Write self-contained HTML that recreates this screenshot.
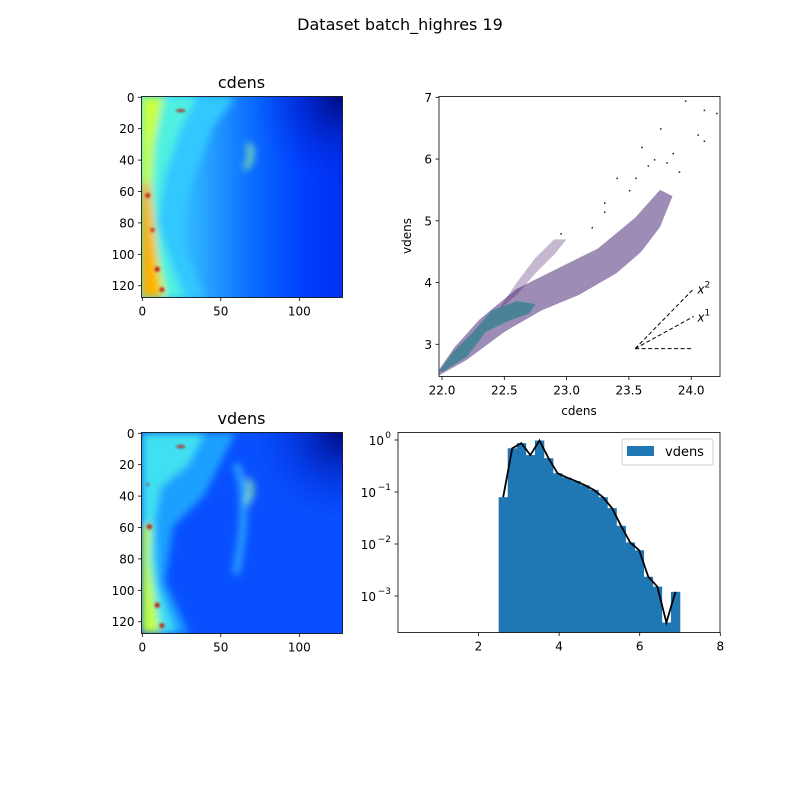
<!DOCTYPE html>
<html><head><meta charset="utf-8"><style>
body{margin:0;background:#fff}
svg{display:block;font-family:"DejaVu Sans","Liberation Sans",sans-serif}
</style></head><body>
<svg id="fig" width="800" height="800" viewBox="0 0 800 800">
<defs>
<filter id="bl" x="-10%" y="-10%" width="120%" height="120%"><feGaussianBlur stdDeviation="2.5"/></filter>
<filter id="bl2"><feGaussianBlur stdDeviation="0.8"/></filter>
<linearGradient id="gbase" x1="0" y1="0" x2="1" y2="0">
<stop offset="0" stop-color="#40e8ff"/><stop offset="0.3" stop-color="#2aa8ff"/><stop offset="0.55" stop-color="#0a6cff"/><stop offset="0.8" stop-color="#0040ff"/><stop offset="1" stop-color="#0030f0"/></linearGradient>
<radialGradient id="gdark" cx="1" cy="0" r="0.45"><stop offset="0" stop-color="#000a80"/><stop offset="1" stop-color="#0030f0" stop-opacity="0"/></radialGradient>
<clipPath id="c1"><rect x="0" y="0" width="128" height="128"/></clipPath>
</defs>
<rect width="800" height="800" fill="#fff"/>
<text x="400" y="30" text-anchor="middle" font-size="16">Dataset batch_highres 19</text>

<g>
<text x="241.5" y="88" text-anchor="middle" font-size="16">cdens</text>
<g transform="translate(141.5,96.5) scale(1.5703)" clip-path="url(#c1)">
<rect width="128" height="128" fill="url(#gbase)"/>
<rect width="128" height="128" fill="url(#gdark)"/>
<g filter="url(#bl)">
<polygon points="0,0 60,0 45,20 30,60 25,90 40,128 0,128" fill="#30c8ff"/>
<polygon points="0,0 35,0 25,20 15,50 10,80 20,110 28,128 0,128" fill="#50f0e0"/>
<polygon points="0,0 14,0 8,30 6,60 10,100 16,128 0,128" fill="#c8ff40"/>
<polygon points="0,55 5,55 7,75 10,110 13,128 0,128" fill="#ffb000"/>
<path d="M68,30 Q72,38 66,46" stroke="#a0ffa0" stroke-width="3" fill="none"/>
</g>
<g filter="url(#bl2)" fill="#c01000">
<circle cx="10" cy="110" r="1.6"/><circle cx="13" cy="123" r="1.5"/><circle cx="4" cy="63" r="1.5"/><circle cx="7" cy="85" r="1.2"/><ellipse cx="25" cy="9" rx="3" ry="0.8"/>
</g>
</g>
<rect x="141.5" y="96.5" width="201" height="201" fill="none" stroke="#000" stroke-width="0.8"/>
</g>

<g>
<text x="241.5" y="424" text-anchor="middle" font-size="16">vdens</text>
<g transform="translate(141.5,432.5) scale(1.5703)" clip-path="url(#c1)">
<rect width="128" height="128" fill="#0850ff"/>
<rect width="128" height="128" fill="url(#gdark)"/>
<g filter="url(#bl)">
<polygon points="0,0 60,0 50,20 40,40 20,60 15,95 30,128 0,128" fill="#1aa0ff"/>
<polygon points="0,0 40,0 30,20 12,35 8,60 10,95 22,128 0,128" fill="#40e0f0"/>
<polygon points="0,60 6,58 5,80 9,110 12,128 0,128" fill="#c0ff40"/>
<path d="M68,30 Q72,38 66,46" stroke="#a0ffa0" stroke-width="3" fill="none"/>
<path d="M60,90 Q70,40 60,20" stroke="#30b0ff" stroke-width="4" fill="none"/>
</g>
<g filter="url(#bl2)" fill="#c01000">
<circle cx="10" cy="110" r="1.6"/><circle cx="13" cy="123" r="1.5"/><circle cx="5" cy="60" r="1.6"/><circle cx="4" cy="33" r="0.8"/><ellipse cx="25" cy="9" rx="3" ry="0.8"/>
</g>
</g>
<rect x="141.5" y="432.5" width="201" height="201" fill="none" stroke="#000" stroke-width="0.8"/>
</g>

<g id="imgAxes" font-size="12"></g>
<g id="scatter"></g>
<g id="hist"></g>
</svg>
<script>
const NS="http://www.w3.org/2000/svg";
function mk(tag,attrs,parent,text){const e=document.createElementNS(NS,tag);for(const k in attrs)e.setAttribute(k,attrs[k]);if(text!==undefined)e.textContent=text;parent.appendChild(e);return e;}

const imgXTicks=[0,50,100];
const imgYTicks=[0,20,40,60,80,100,120];
const imgOrigins=[[141.5,96.5],[141.5,432.5]];
const ia=document.getElementById('imgAxes');
imgOrigins.forEach(o=>{
  const s=201/128;
  imgXTicks.forEach(v=>{const x=o[0]+(v+0.5)*s;
    mk('line',{x1:x,x2:x,y1:o[1]+201,y2:o[1]+204.5,stroke:'#000','stroke-width':0.8},ia);
    const t=mk('text',{x:x,y:o[1]+219,'text-anchor':'middle'},ia,String(v));
    
    });
  imgYTicks.forEach(v=>{const y=o[1]+(v+0.5)*s;
    mk('line',{x1:o[0]-3.5,x2:o[0],y1:y,y2:y,stroke:'#000','stroke-width':0.8},ia);
    const t=mk('text',{x:o[0]-7,y:y+4.5,'text-anchor':'end'},ia,String(v));
    
    });
});

const scXTicks=[22.0,22.5,23.0,23.5,24.0];
const scYTicks=[3,4,5,6,7];
const bandLowerX=[21.98,22.2,22.5,22.8,23.1,23.4,23.6,23.75,23.85,23.75,23.55,23.25,22.95,22.6,22.3,22.1,21.98];
const bandLowerY=[2.5,2.75,3.2,3.55,3.8,4.15,4.5,4.9,5.4,5.5,5.05,4.55,4.25,3.9,3.4,2.95,2.6];
const tongueX=[22.45,22.6,22.75,22.9,23.0,22.9,22.75,22.6,22.5];
const tongueY=[3.55,3.8,4.15,4.45,4.7,4.7,4.4,4.0,3.7];
const coreX=[22.0,22.2,22.35,22.5,22.7,22.75,22.6,22.4,22.25,22.1,21.98];
const coreY=[2.55,2.8,3.2,3.35,3.5,3.65,3.7,3.55,3.2,2.9,2.58];
const dotX=[23.95,24.1,24.2,23.75,24.05,23.6,23.4,23.7,23.85,23.3,23.5,23.9,24.1,23.2,23.65,22.95,23.3,23.55,23.8];
const dotY=[6.95,6.8,6.75,6.5,6.4,6.2,5.7,6.0,6.1,5.3,5.5,5.8,6.3,4.9,5.9,4.8,5.15,5.7,5.95];
const sc=document.getElementById('scatter');
const SX0=439,SX1=720,SY0=96.5,SY1=376.5;
const sx=v=>442+(v-22)*124.6, sy=v=>344.3-(v-3)*61.75;
function poly(xs,ys,fill,op,name){const p=mk('polygon',{points:xs.map((x,i)=>sx(x)+','+sy(ys[i])).join(' '),fill:fill,'fill-opacity':op},sc);
  }
poly(bandLowerX,bandLowerY,'#3b1c6e',0.5,'scatter-main-band');
poly(tongueX,tongueY,'#44146a',0.3,'scatter-upper-branch');
poly(coreX,coreY,'#2f7f8e',0.75,'scatter-dense-core');
dotX.forEach((x,i)=>{const r=mk('rect',{x:sx(x),y:sy(dotY[i]),width:1.5,height:1.5,fill:'#440154'},sc);
  });
const gOrigin=[23.55,2.93], gEnd=24.02;
const guideEnds=[2.93,3.45,3.9];
guideEnds.forEach((y2,k)=>{
  const l=mk('line',{x1:sx(gOrigin[0]),y1:sy(gOrigin[1]),x2:sx(gEnd),y2:sy(y2),stroke:'#000','stroke-dasharray':'4,2.5','stroke-width':1},sc);
  });
[['x','2',3.9],['x','1',3.45]].forEach(a=>{const t=mk('text',{x:sx(24.05),y:sy(a[2])+5,'font-size':12,'font-style':'italic'},sc,a[0]);
  
  mk('tspan',{dy:-6,'font-size':9,'font-style':'normal'},t,a[1]);});
mk('rect',{x:SX0,y:SY0,width:SX1-SX0,height:SY1-SY0,fill:'none',stroke:'#000','stroke-width':0.8},sc);
scXTicks.forEach(v=>{const x=sx(v);mk('line',{x1:x,x2:x,y1:SY1,y2:SY1+3.5,stroke:'#000','stroke-width':0.8},sc);
  const t=mk('text',{x:x,y:SY1+18,'text-anchor':'middle','font-size':12},sc,v.toFixed(1));
  });
scYTicks.forEach(v=>{const y=sy(v);mk('line',{x1:SX0-3.5,x2:SX0,y1:y,y2:y,stroke:'#000','stroke-width':0.8},sc);
  const t=mk('text',{x:SX0-7,y:y+4.5,'text-anchor':'end','font-size':12},sc,String(v));
  });
let t=mk('text',{x:579,y:415,'text-anchor':'middle','font-size':12},sc,'cdens');

t=mk('text',{x:0,y:0,'text-anchor':'middle','font-size':12,transform:'translate(411,236) rotate(-90)'},sc,'vdens');


const binStart=2.5, binWidth=0.225;
const histLog=[-1.10,-0.16,-0.06,-0.29,-0.01,-0.35,-0.64,-0.72,-0.79,-0.87,-0.96,-1.10,-1.31,-1.65,-1.97,-2.12,-2.63,-2.82,-3.51,-2.92];
const hXTicks=[2,4,6,8];
const hYTicks=[0,-1,-2,-3];
const h=document.getElementById('hist');
const HX0=398,HX1=720,HY0=432.5,HY1=632.5;
const hx=v=>478.5+(v-2)*40.3, hy=l=>440-l*52;
histLog.forEach((l,i)=>{const x0=hx(binStart+i*binWidth),x1=hx(binStart+(i+1)*binWidth);
  const r=mk('rect',{x:x0,y:hy(l),width:x1-x0+0.3,height:HY1-hy(l),fill:'#1f77b4'},h);
  });
const pl=mk('polyline',{points:histLog.map((l,i)=>hx(binStart+(i+0.5)*binWidth)+','+hy(l)).join(' '),fill:'none',stroke:'#000','stroke-width':1.8},h);

mk('rect',{x:HX0,y:HY0,width:HX1-HX0,height:HY1-HY0,fill:'none',stroke:'#000','stroke-width':0.8},h);
hXTicks.forEach(v=>{const x=hx(v);mk('line',{x1:x,x2:x,y1:HY1,y2:HY1+3.5,stroke:'#000','stroke-width':0.8},h);
  const t=mk('text',{x:x,y:HY1+18,'text-anchor':'middle','font-size':12},h,String(v));
  });
hYTicks.forEach(v=>{const y=hy(v);mk('line',{x1:HX0-3.5,x2:HX0,y1:y,y2:y,stroke:'#000','stroke-width':0.8},h);
  const t=mk('text',{x:v===0?HX0-14:HX0-22,y:y+5,'text-anchor':'end','font-size':12},h,'10');
  
  mk('text',{x:HX0-7,y:y-2,'text-anchor':'end','font-size':9},h,v===0?'0':'\u2212'+(-v));});
const lg=mk('g',{},h);

mk('rect',{x:622,y:439,width:91,height:26,fill:'#fff',stroke:'#ccc',rx:2},lg);
mk('rect',{x:627,y:446,width:27,height:10,fill:'#1f77b4'},lg);
mk('text',{x:665,y:456,'font-size':13},lg,'vdens');
</script>
</body></html>
